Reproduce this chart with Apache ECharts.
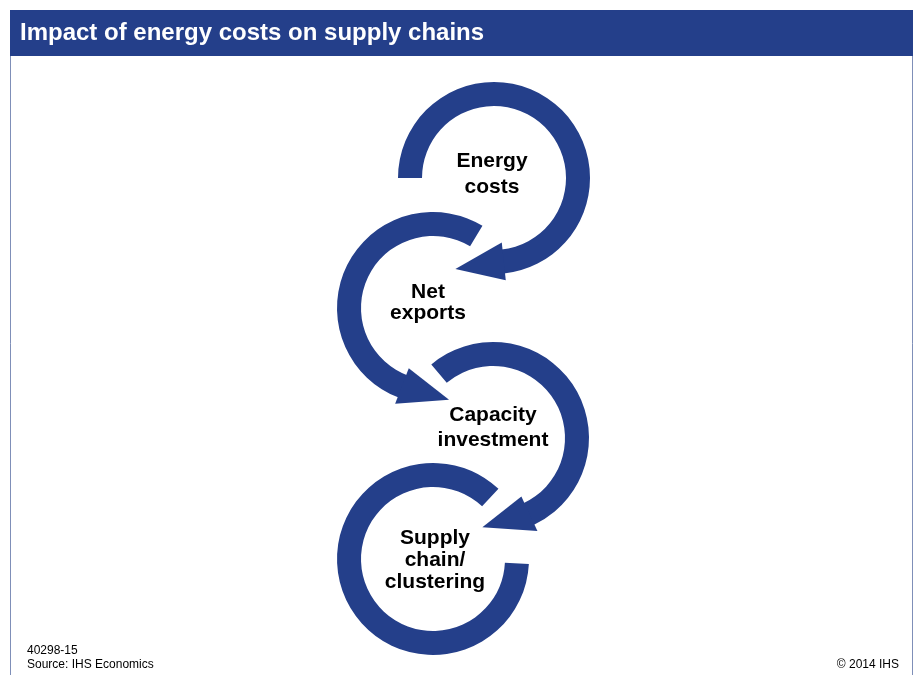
<!DOCTYPE html>
<html>
<head>
<meta charset="utf-8">
<script src="https://cdn.jsdelivr.net/npm/echarts@6/dist/echarts.min.js"></script>
<style>
html, body { margin: 0; padding: 0; background: #fff; }
#chart { width: 917px; height: 675px; }
</style>
</head>
<body>
<div id="chart"></div>
<script>
const titleText = 'Impact of energy costs on supply chains'
const stepLabels = [
  ['Energy', 'costs'],
  ['Net', 'exports'],
  ['Capacity', 'investment'],
  ['Supply', 'chain/', 'clustering']
]
const footNotes = ['40298-15', 'Source: IHS Economics']
const copyrightText = '\u00a9 2014 IHS'

// ring layout (screen degrees, clockwise positive)
const ringCentres = [[494, 178], [433, 308], [493, 438], [433, 559]]
const arcFrom = [-180, -59, -130, -47]
const arcTo = [84, -249, 65, -357]
const hasArrow = [true, true, true, false]
const arrowBend = [-3, -5, 9]
const labelCentres = [[492, 174], [428, 303], [493, 428], [435, 560]]
const labelLineHeights = [26, 21, 25, 22]

const BLUE = '#243f8a'
const FONT = 'Arial, "Liberation Sans", sans-serif'
const R0 = 72
const R1 = 96
const rad = Math.PI / 180

function arrowHead(c, endDeg, dir, bend) {
  const t = endDeg * rad
  const rm = (R0 + R1) / 2
  const hw = 19
  const len = 48
  const bx = c[0] + rm * Math.cos(t)
  const by = c[1] + rm * Math.sin(t)
  const rx = Math.cos(t)
  const ry = Math.sin(t)
  const tx = -Math.sin(t) * dir
  const ty = Math.cos(t) * dir
  // tip direction, turned a little to follow the drawing
  const b = (bend || 0) * rad
  const px = tx * Math.cos(b) - ty * Math.sin(b)
  const py = tx * Math.sin(b) + ty * Math.cos(b)
  return [
    [bx - hw * rx - tx, by - hw * ry - ty],
    [bx + px * len, by + py * len],
    [bx + hw * rx - tx, by + hw * ry - ty]
  ]
}

const graphics = []
// frame + header band
graphics.push({
  type: 'rect',
  shape: { x: 10.5, y: 10.5, width: 902, height: 670 },
  style: { fill: '#fff', stroke: '#7f8fb8', lineWidth: 1 }
})
graphics.push({
  type: 'rect',
  shape: { x: 10, y: 10, width: 903, height: 46 },
  style: { fill: BLUE }
})
graphics.push({
  type: 'text',
  style: { text: titleText, x: 20, y: 33, verticalAlign: 'middle', fill: '#fff', font: 'bold 24px ' + FONT }
})

ringCentres.forEach((c, i) => {
  const a = Math.min(arcFrom[i], arcTo[i])
  const b = Math.max(arcFrom[i], arcTo[i])
  graphics.push({
    type: 'sector',
    shape: { cx: c[0], cy: c[1], r0: R0, r: R1, startAngle: a * rad, endAngle: b * rad, clockwise: true },
    style: { fill: BLUE }
  })
  if (hasArrow[i]) {
    const dir = arcTo[i] > arcFrom[i] ? 1 : -1
    graphics.push({
      type: 'polygon',
      shape: { points: arrowHead(c, arcTo[i], dir, arrowBend[i]) },
      style: { fill: BLUE }
    })
  }
})

stepLabels.forEach((lines, i) => {
  graphics.push({
    type: 'text',
    style: {
      text: lines.join('\n'),
      x: labelCentres[i][0],
      y: labelCentres[i][1],
      align: 'center',
      verticalAlign: 'middle',
      lineHeight: labelLineHeights[i],
      fill: '#000',
      font: 'bold 21px ' + FONT
    }
  })
})

footNotes.forEach((t, i) => {
  graphics.push({
    type: 'text',
    style: { text: t, x: 27, y: 651 + i * 14, verticalAlign: 'middle', fill: '#000', font: '12px ' + FONT }
  })
})
graphics.push({
  type: 'text',
  style: { text: copyrightText, x: 899, y: 665, align: 'right', verticalAlign: 'middle', fill: '#000', font: '12px ' + FONT }
})

const chart = echarts.init(document.getElementById('chart'))
chart.setOption({
  animation: false,
  graphic: graphics
})
</script>
</body>
</html>
